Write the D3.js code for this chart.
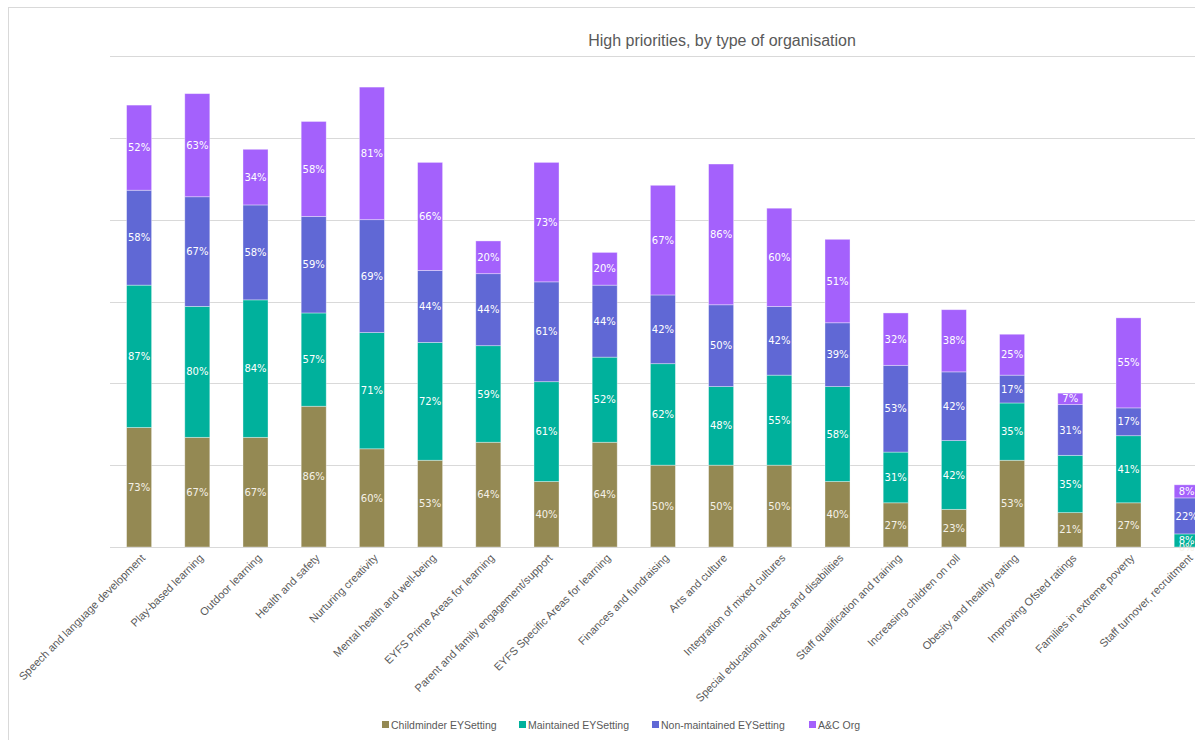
<!DOCTYPE html>
<html><head><meta charset="utf-8">
<script src="https://cdn.jsdelivr.net/npm/d3@7"></script>
<style>body{margin:0;background:#fff;overflow:hidden}</style>
</head><body>
<svg id="c" width="1195" height="740"></svg>
<script>
const categories = ["Speech and language development","Play-based learning","Outdoor learning","Health and safety","Nurturing creativity","Mental health and well-being","EYFS Prime Areas for learning","Parent and family engagement/support","EYFS Specific Areas for learning","Finances and fundraising","Arts and culture","Integration of mixed cultures","Special educational needs and disabilities","Staff qualification and training","Increasing children on roll","Obesity and healthy eating","Improving Ofsted ratings","Families in extreme poverty","Staff turnover, recruitment"];
const seriesNames = ["Childminder EYSetting","Maintained EYSetting","Non-maintained EYSetting","A&C Org"];
const childminder = [73,67,67,86,60,53,64,40,64,50,50,50,40,27,23,53,21,27,0];
const maintained  = [87,80,84,57,71,72,59,61,52,62,48,55,58,31,42,35,35,41,8];
const nonMaintained = [58,67,58,59,69,44,44,61,44,42,50,42,39,53,42,17,31,17,22];
const acOrg = [52,63,34,58,81,66,20,73,20,67,86,60,51,32,38,25,7,55,8];
const gridTicks = [0,50,100,150,200,250,300];
const colors = ["#948953","#00B19C","#6068D5","#A461FC"];

const svg = d3.select("#c");
// frame
svg.append("rect").attr("x",8.5).attr("y",7.5).attr("width",1300).attr("height",800)
  .attr("fill","#fff").attr("stroke","#d9d9d9");

const rows = categories.map((c,i)=>({cat:c, s0:childminder[i], s1:maintained[i], s2:nonMaintained[i], s3:acOrg[i]}));
const keys = ["s0","s1","s2","s3"];
const stacked = d3.stack().keys(keys)(rows);

const x = d3.scaleBand().domain(categories).range([110, 110+19*58.2]).paddingInner(0.57).paddingOuter(0.285);
const y = d3.scaleLinear().domain([0,300]).range([547,56]);

// gridlines
svg.append("g").selectAll("line").data(gridTicks).join("line")
  .attr("x1",110).attr("x2",1300).attr("y1",d=>Math.round(y(d))+0.5).attr("y2",d=>Math.round(y(d))+0.5)
  .attr("stroke","#d9d9d9").attr("stroke-width",1);

// bars
const g = svg.append("g");
stacked.forEach((layer,li)=>{
  g.append("g").selectAll("rect").data(layer).join("rect")
    .attr("x",d=>x(d.data.cat)).attr("width",x.bandwidth())
    .attr("y",d=>y(d[1])).attr("height",d=>y(d[0])-y(d[1]))
    .attr("fill",colors[li]).attr("stroke","rgba(255,255,255,0.45)").attr("stroke-width",0.8);
});
// labels
stacked.forEach((layer,li)=>{
  g.append("g").selectAll("text").data(layer).join("text")
    .attr("x",d=>x(d.data.cat)+x.bandwidth()/2)
    .attr("y",d=>(y(d[0])+y(d[1]))/2)
    .attr("dy","0.36em").attr("text-anchor","middle")
    .attr("font-family","DejaVu Sans, Verdana, sans-serif").attr("font-size",10)
    .attr("fill", li===0 ? "#f4f1e8" : "#ffffff")
    .text(d=>(d[1]-d[0])+"%");
});

// baseline axis
svg.append("line").attr("x1",110).attr("x2",1300).attr("y1",547.5).attr("y2",547.5).attr("stroke","#d9d9d9");

// category labels
const xa = svg.append("g");
xa.selectAll("text").data(categories).join("text")
  .attr("transform",d=>`translate(${x(d)+x.bandwidth()/2+4},556) rotate(-45)`)
  .attr("text-anchor","end").attr("dy","0.35em")
  .attr("font-family","Liberation Sans, Arial, sans-serif").attr("font-size",11)
  .attr("fill","#595959").text(d=>d);

// title
svg.append("text").attr("x",722).attr("y",46).attr("text-anchor","middle")
  .attr("font-family","Liberation Sans, Arial, sans-serif").attr("font-size",16)
  .attr("fill","#595959").text("High priorities, by type of organisation");

// legend
const legX = [382,519,652,809];
const leg = svg.append("g");
seriesNames.forEach((n,i)=>{
  leg.append("rect").attr("x",legX[i]).attr("y",721).attr("width",7).attr("height",7).attr("fill",colors[i]);
  leg.append("text").attr("x",legX[i]+9).attr("y",725).attr("dy","0.35em")
    .attr("font-family","Liberation Sans, Arial, sans-serif").attr("font-size",10.5)
    .attr("fill","#595959").text(n);
});
</script>
</body></html>
